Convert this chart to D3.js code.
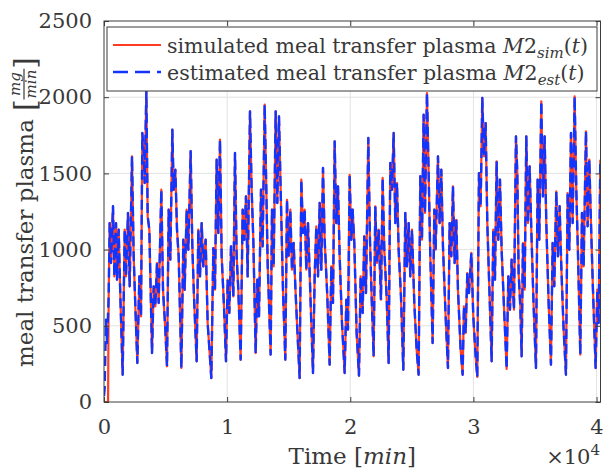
<!DOCTYPE html>
<html>
<head>
<meta charset="utf-8">
<script src="https://cdn.jsdelivr.net/npm/d3@7"></script>
<style>
body{margin:0;background:#fff}
svg{display:block}
text{font-family:"DejaVu Serif",serif;fill:#383838}
</style>
</head>
<body>
<div id="chart"></div>
<script>

// time in minutes, meal transfer plasma in mg/min
var timeMin = [0, 330, 379, 461, 569, 731, 840, 975, 1056, 1192, 1327, 1516, 1679, 1787, 1949, 2085, 2274, 2410, 2545, 2707,
	2870, 3005, 3113, 3249, 3303, 3438, 3547, 3682, 3899, 4034, 4169, 4305, 4440, 4656, 4792, 4981, 5117, 5252, 5387, 5550,
	5658, 5793, 5929, 6064, 6281, 6443, 6551, 6712, 6848, 7037, 7173, 7308, 7524, 7660, 7795, 7931, 8066, 8255, 8418, 8526,
	8715, 8878, 9013, 9149, 9284, 9419, 9555, 9744, 9907, 10042, 10177, 10313, 10502, 10638, 10773, 10908, 11098, 11260, 11395, 11531,
	11666, 11856, 11991, 12126, 12316, 12451, 12587, 12749, 12884, 13047, 13182, 13290, 13534, 13642, 13777, 13940, 14075, 14210, 14346, 14535,
	14725, 14860, 14995, 15131, 15266, 15401, 15537, 15699, 15889, 16024, 16159, 16295, 16430, 16565, 16755, 16971, 17107, 17242, 17378, 17513,
	17648, 17784, 17919, 18135, 18325, 18460, 18596, 18731, 18866, 19002, 19137, 19327, 19543, 19679, 19814, 19949, 20085, 20191, 20327, 20516,
	20706, 20841, 21003, 21139, 21274, 21464, 21599, 21734, 21897, 22032, 22167, 22303, 22492, 22628, 22763, 22952, 23115, 23250, 23386, 23521,
	23656, 23792, 23927, 24117, 24306, 24468, 24604, 24739, 24874, 25010, 25199, 25389, 25551, 25687, 25822, 25957, 26066, 26228, 26363, 26499,
	26688, 26824, 26931, 27121, 27256, 27392, 27527, 27743, 27933, 28068, 28204, 28339, 28474, 28610, 28745, 28962, 29124, 29232, 29368, 29503,
	29638, 29828, 29990, 30180, 30315, 30450, 30586, 30721, 30857, 30992, 31127, 31263, 31479, 31614, 31750, 31885, 32020, 32156, 32291, 32481,
	32697, 32833, 32968, 33104, 33293, 33455, 33564, 33671, 33807, 33915, 34023, 34159, 34294, 34429, 34565, 34700, 34890, 35079, 35214, 35350,
	35512, 35647, 35783, 35918, 36108, 36297, 36433, 36568, 36730, 36866, 37001, 37136, 37326, 37515, 37651, 37786, 37921, 38057, 38219, 38354,
	38490, 38679, 38815, 38950, 39140, 39275, 39410, 39546, 39708, 39925, 40060, 40168, 40304]

var m2Sim = [0, 0, 693, 1174, 912, 1284, 824, 1174, 803, 1131, 693, 179, 1131, 824, 1240, 759, 1612, 956, 628, 256,
	824, 562, 1765, 1612, 1437, 2038, 1218, 1131, 321, 759, 628, 912, 650, 1393, 737, 475, 234, 1262, 934, 1787,
	1393, 1524, 1131, 956, 223, 1065, 737, 1262, 999, 1645, 1021, 693, 267, 1131, 824, 1174, 890, 1065, 518, 387,
	157, 1010, 737, 1590, 1109, 1721, 956, 628, 267, 803, 584, 1021, 693, 1634, 956, 737, 278, 1262, 1065, 1349,
	824, 1907, 1393, 1065, 321, 803, 562, 1393, 1021, 1951, 1393, 912, 311, 1262, 890, 1907, 1306, 1874, 1393, 737,
	278, 1327, 956, 1262, 868, 1043, 759, 475, 157, 1459, 1109, 1262, 868, 1174, 715, 190, 824, 1153, 824, 1306,
	868, 1535, 1065, 693, 245, 890, 650, 1710, 1174, 1415, 956, 518, 190, 671, 475, 1491, 1065, 1262, 1043, 453,
	173, 824, 584, 1087, 715, 1732, 1065, 693, 300, 1284, 912, 1131, 671, 1470, 999, 693, 256, 1568, 1393, 1765,
	1174, 1437, 999, 693, 212, 1240, 890, 1174, 824, 1131, 650, 343, 179, 1481, 1065, 1885, 1240, 2027, 1502, 956,
	387, 1262, 999, 1612, 1174, 1524, 1021, 562, 223, 1174, 956, 1415, 912, 1196, 737, 343, 179, 628, 453, 846,
	715, 978, 562, 300, 164, 1502, 1284, 1995, 1612, 1830, 1174, 824, 267, 1131, 803, 1579, 1065, 1459, 999, 628,
	217, 824, 606, 934, 606, 1743, 1502, 846, 628, 300, 1043, 737, 1743, 1174, 1546, 1131, 628, 223, 1459, 1065,
	1973, 1349, 1743, 1174, 650, 245, 1043, 759, 1382, 956, 1284, 890, 475, 179, 1371, 999, 1765, 1174, 2005, 1393,
	978, 311, 1240, 890, 1776, 1153, 1590, 1174, 737, 223, 737, 518, 1590]

// the estimate starts on its own, then follows the simulation from timeMin[2]
var estHeadTime = [0, 55, 163, 244]
var estHeadVal = [40, 90, 540, 387]

var yTicks = [0, 500, 1000, 1500, 2000, 2500]
var xTicks = [0, 10000, 20000, 30000, 40000]
var xTickLabels = ["0", "1", "2", "3", "4"]

var simColor = "#ff3b22"
var estColor = "#1234ff"

var W = 603, H = 476
var margin = {top: 21, left: 104, right: 2.5, bottom: 74}
var plotW = W - margin.left - margin.right
var plotH = H - margin.top - margin.bottom

var svg = d3.select("#chart").append("svg")
	.attr("width", W)
	.attr("height", H)

var xScale = d3.scaleLinear().domain([0, 40320]).range([0, plotW])
var yScale = d3.scaleLinear().domain([0, 2500]).range([plotH, 0])

var g = svg.append("g")
	.attr("transform", "translate(" + margin.left + "," + margin.top + ")")

// grid
g.append("g").selectAll("line.gx")
	.data(xTicks.slice(1))
	.enter().append("line")
	.attr("x1", function(d){ return xScale(d) }).attr("x2", function(d){ return xScale(d) })
	.attr("y1", 0).attr("y2", plotH)
	.attr("stroke", "#e3e3e3").attr("stroke-width", 1)
g.append("g").selectAll("line.gy")
	.data(yTicks.slice(1, -1))
	.enter().append("line")
	.attr("y1", function(d){ return yScale(d) }).attr("y2", function(d){ return yScale(d) })
	.attr("x1", 0).attr("x2", plotW)
	.attr("stroke", "#e3e3e3").attr("stroke-width", 1)

// series
var simData = timeMin.map(function(t, i){ return {t: t, v: m2Sim[i]} })
var estData = estHeadTime.map(function(t, i){ return {t: t, v: estHeadVal[i]} })
	.concat(simData.slice(2))

svg.append("clipPath").attr("id", "plotclip")
	.append("rect").attr("x", 0).attr("y", 0).attr("width", plotW).attr("height", plotH)

var line = d3.line()
	.x(function(d){ return xScale(d.t) })
	.y(function(d){ return yScale(d.v) })

var lines = g.append("g").attr("clip-path", "url(#plotclip)")
lines.append("path")
	.datum(simData)
	.attr("d", line)
	.attr("fill", "none")
	.attr("stroke", simColor)
	.attr("stroke-width", 2.2)
	.attr("stroke-linejoin", "round")
lines.append("path")
	.datum(estData)
	.attr("d", line)
	.attr("fill", "none")
	.attr("stroke", estColor)
	.attr("stroke-width", 2.4)
	.attr("stroke-dasharray", "10,5")
	.attr("stroke-linejoin", "round")

// axes, box on, ticks inside
var axisColor = "#3c3c3c"
function styleAxis(sel){
	sel.select(".domain").remove()
	sel.selectAll(".tick line").attr("stroke", axisColor)
	sel.selectAll(".tick text").attr("fill", "#383838").style("font-size", "21px").style("font-family", "DejaVu Serif")
}
g.append("g")
	.attr("transform", "translate(0," + plotH + ")")
	.call(d3.axisBottom(xScale).tickValues(xTicks).tickFormat(function(d, i){ return xTickLabels[i] }).tickSizeInner(-5).tickPadding(17))
	.call(styleAxis)
g.append("g")
	.call(d3.axisTop(xScale).tickValues(xTicks).tickFormat("").tickSizeInner(-5))
	.call(styleAxis)
g.append("g")
	.call(d3.axisLeft(yScale).tickValues(yTicks).tickFormat(d3.format("d")).tickSizeInner(-5).tickPadding(12))
	.call(styleAxis)
g.append("g")
	.attr("transform", "translate(" + plotW + ",0)")
	.call(d3.axisRight(yScale).tickValues(yTicks).tickFormat("").tickSizeInner(-5))
	.call(styleAxis)
g.append("rect")
	.attr("width", plotW).attr("height", plotH)
	.attr("fill", "none").attr("stroke", axisColor).attr("stroke-width", 1)

// x label and exponent
svg.append("text")
	.attr("x", margin.left + plotW / 2).attr("y", 464)
	.attr("text-anchor", "middle").style("font-size", "23px")
	.html('Time [<tspan font-style="italic">min</tspan>]')
svg.append("text")
	.attr("x", 600).attr("y", 464)
	.attr("text-anchor", "end").style("font-size", "21px")
	.html('×10<tspan dy="-9" style="font-size:15px">4</tspan>')

// y label with the unit fraction
var yl = svg.append("g").attr("transform", "translate(33,212) rotate(-90)")
var part1 = yl.append("text").style("font-size", "23px").text("meal transfer plasma")
var br1 = yl.append("text").style("font-size", "30px").attr("y", 2).text("[")
var num = yl.append("text").style("font-size", "15px").style("font-style", "italic").attr("y", -13).attr("text-anchor", "middle").text("mg")
var den = yl.append("text").style("font-size", "15px").style("font-style", "italic").attr("y", 3).attr("text-anchor", "middle").text("min")
var br2 = yl.append("text").style("font-size", "30px").attr("y", 2).text("]")
var w1 = part1.node().getComputedTextLength()
var wb = br1.node().getComputedTextLength()
var wf = Math.max(num.node().getComputedTextLength(), den.node().getComputedTextLength()) + 2
var total = w1 + 8 + wb + wf + wb
var x0 = -total / 2
part1.attr("x", x0)
br1.attr("x", x0 + w1 + 8)
var fc = x0 + w1 + 8 + wb + wf / 2
num.attr("x", fc)
den.attr("x", fc)
yl.append("line")
	.attr("x1", fc - wf / 2).attr("x2", fc + wf / 2)
	.attr("y1", -9).attr("y2", -9)
	.attr("stroke", "#383838").attr("stroke-width", 1.2)
br2.attr("x", x0 + w1 + 8 + wb + wf)

// legend
var leg = svg.append("g")
leg.append("rect")
	.attr("x", 107).attr("y", 27).attr("width", 490).attr("height", 64)
	.attr("fill", "#fff").attr("stroke", axisColor).attr("stroke-width", 1)
var legItems = [
	{name: "simulated meal transfer plasma ", sub: "sim", color: simColor, dash: null, w: 2},
	{name: "estimated meal transfer plasma ", sub: "est", color: estColor, dash: "15,7", w: 2.4}
]
legItems.forEach(function(item, i){
	var cy = 45 + i * 27
	leg.append("line")
		.attr("x1", 113).attr("x2", 161).attr("y1", cy).attr("y2", cy)
		.attr("stroke", item.color).attr("stroke-width", item.w)
		.attr("stroke-dasharray", item.dash)
	leg.append("text")
		.attr("x", 167).attr("y", cy + 8)
		.style("font-size", "20.5px")
		.html(item.name + '<tspan font-style="italic">M</tspan>2<tspan font-style="italic" dy="5" style="font-size:15px">' + item.sub +
			'</tspan><tspan dy="-5">(</tspan><tspan font-style="italic">t</tspan>)')
})

</script>
</body>
</html>
